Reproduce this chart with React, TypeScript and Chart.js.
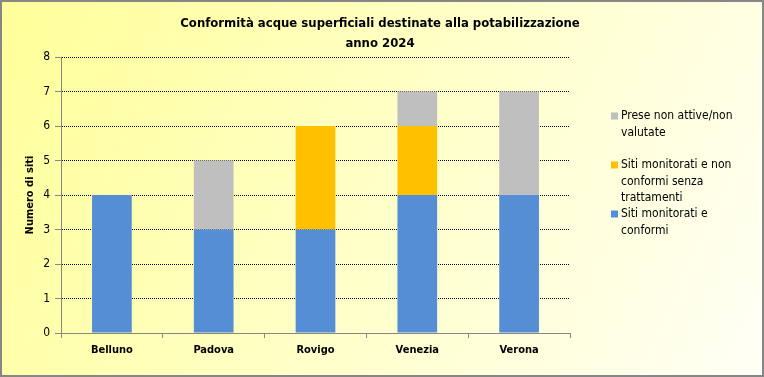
import { useEffect, useRef } from "react";
import { Chart, registerables } from "chart.js";

Chart.register(...registerables);

const categories = ["Belluno", "Padova", "Rovigo", "Venezia", "Verona"];
const conformi = [4, 3, 3, 4, 4];
const nonConformi = [0, 0, 3, 2, 0];
const nonAttive = [0, 2, 0, 1, 3];
const seriesLabels = [
  "Siti monitorati e conformi",
  "Siti monitorati e non conformi senza trattamenti",
  "Prese non attive/non valutate",
];
const seriesColors = ["#558ED5", "#FFC000", "#BFBFBF"];
const legendLines = [
  ["Siti monitorati e", "conformi"],
  ["Siti monitorati e non", "conformi senza", "trattamenti"],
  ["Prese non attive/non", "valutate"],
];
const titleLines = [
  "Conformità acque superficiali destinate alla potabilizzazione",
  "anno 2024",
];
const yTitle = "Numero di siti";
const yMin = 0;
const yMax = 8;
const yStep = 1;

const FONT = '"DejaVu Sans Condensed", "Liberation Sans", sans-serif';

const decorPlugin = {
  id: "decor",
  beforeDraw(chart: any) {
    const { ctx, width, height } = chart;
    ctx.save();
    const g = ctx.createLinearGradient(0, 0, width, height);
    g.addColorStop(0, "#FFFF99");
    g.addColorStop(1, "#FFFFF6");
    ctx.fillStyle = g;
    ctx.fillRect(0, 0, width, height);
    ctx.strokeStyle = "#868686";
    ctx.lineWidth = 2;
    ctx.strokeRect(1, 1, width - 2, height - 2);
    ctx.restore();
  },
  afterDraw(chart: any) {
    const { ctx, chartArea } = chart;
    ctx.save();
    ctx.fillStyle = "#000";
    ctx.font = `bold 13px ${FONT}`;
    ctx.textAlign = "center";
    ctx.textBaseline = "middle";
    titleLines.forEach((t, i) => ctx.fillText(t, 380, 24 + i * 20));
    ctx.save();
    ctx.translate(30, (chartArea.top + chartArea.bottom) / 2);
    ctx.rotate(-Math.PI / 2);
    ctx.font = `bold 11px ${FONT}`;
    ctx.fillText(yTitle, 0, 0);
    ctx.restore();
    ctx.font = `12px ${FONT}`;
    ctx.textAlign = "left";
    const lineH = 16.5;
    const itemTops = [116, 165, 214];
    const order = [2, 1, 0];
    order.forEach((di, k) => {
      const y0 = itemTops[k];
      ctx.fillStyle = seriesColors[di];
      ctx.fillRect(611, y0 - 3.5, 7, 7);
      ctx.fillStyle = "#000";
      legendLines[di].forEach((l, j) => ctx.fillText(l, 621, y0 + j * lineH));
    });
    ctx.restore();
  },
};

export default function App() {
  const ref = useRef<HTMLCanvasElement | null>(null);
  useEffect(() => {
    if (!ref.current) return;
    const chart = new Chart(ref.current, {
      type: "bar",
      data: {
        labels: categories,
        datasets: [
          { label: seriesLabels[0], data: conformi, backgroundColor: seriesColors[0] },
          { label: seriesLabels[1], data: nonConformi, backgroundColor: seriesColors[1] },
          { label: seriesLabels[2], data: nonAttive, backgroundColor: seriesColors[2] },
        ],
      },
      options: {
        responsive: false,
        animation: false,
        layout: { padding: { top: 57, right: 194, left: 0, bottom: 0 } },
        datasets: { bar: { categoryPercentage: 1, barPercentage: 0.39 } } as any,
        plugins: {
          legend: { display: false },
          title: { display: false },
          tooltip: { enabled: false },
        },
        scales: {
          x: {
            stacked: true,
            grid: {
              offset: true,
              drawOnChartArea: false,
              tickLength: 5,
              color: "#868686",
              tickColor: "#868686",
            },
            border: { color: "#868686" },
            ticks: {
              color: "#000",
              padding: 6,
              font: { family: FONT, size: 11, weight: "bold" },
            },
            afterFit: (s: any) => {
              s.height = 44;
            },
          },
          y: {
            stacked: true,
            min: yMin,
            max: yMax,
            ticks: {
              stepSize: yStep,
              color: "#000",
              padding: 5,
              font: { family: FONT, size: 12 },
            },
            grid: {
              color: (c: any) => (c.tick && c.tick.value === 0 ? "rgba(0,0,0,0)" : "#000"),
              tickColor: "#868686",
              tickLength: 6,
              borderDash: [1, 1],
              tickBorderDash: [],
            } as any,
            border: { color: "#868686", dash: [1, 1] } as any,
            afterFit: (s: any) => {
              s.width = 61;
            },
          },
        },
      },
      plugins: [decorPlugin],
    });
    return () => chart.destroy();
  }, []);
  return (
    <div style={{ position: "fixed", left: 0, top: 0, width: 764, height: 377 }}>
      <canvas ref={ref} width={764} height={377} style={{ width: 764, height: 377, display: "block" }} />
    </div>
  );
}
